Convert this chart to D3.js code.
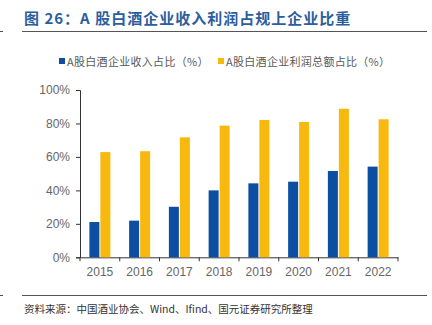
<!DOCTYPE html>
<html><head><meta charset="utf-8">
<script src="https://cdn.jsdelivr.net/npm/d3@7"></script>
<style>body{margin:0;background:#fff}svg{display:block}</style>
</head><body>
<script>
const categories = ["2015","2016","2017","2018","2019","2020","2021","2022"];
const revenueShare = [21.1, 21.9, 30.2, 40.0, 44.2, 45.2, 51.6, 54.2];
const profitShare = [62.9, 63.4, 71.7, 78.7, 82.1, 80.9, 88.8, 82.5];
const seriesNames = ["A股白酒企业收入占比（%）", "A股白酒企业利润总额占比（%）"];
const yTicks = [0, 20, 40, 60, 80, 100];
const title = "图 26：A 股白酒企业收入利润占规上企业比重";
const source = "资料来源：中国酒业协会、Wind、Ifind、国元证券研究所整理";

const W = 432, H = 325;
const colors = ["#0B4EA2", "#F8B90F"];
const font = "'Noto Sans CJK SC', 'Liberation Sans', sans-serif";
const svg = d3.select("body").append("svg").attr("width", W).attr("height", H);

svg.append("text").attr("x", 24).attr("y", 24).text(title)
  .attr("font-family", font).attr("font-size", 15).attr("font-weight", "bold").attr("fill", "#2C5E9E")
  .attr("letter-spacing", 1);
svg.append("line").attr("x1", 22).attr("x2", 427).attr("y1", 31.5).attr("y2", 31.5).attr("stroke", "#555").attr("stroke-width", 1);
svg.append("line").attr("x1", 0).attr("x2", 3).attr("y1", 31.5).attr("y2", 31.5).attr("stroke", "#555").attr("stroke-width", 1);

const x = d3.scaleBand().domain(categories).range([80, 398]);
const y = d3.scaleLinear().domain([0, 100]).range([257.3, 90]);
const barW = 10;

const yAxis = d3.axisLeft(y).tickValues(yTicks).tickFormat(d => d + "%").tickSize(4).tickPadding(6);
const gy = svg.append("g").attr("transform", "translate(80,0)").call(yAxis);
gy.selectAll("text").attr("font-family", "'Liberation Sans', Arial, sans-serif").attr("font-size", 12).attr("fill", "#666");
gy.selectAll("line,path").attr("stroke", "#333");

const xAxis = d3.axisBottom(x).tickSize(0).tickPadding(10);
const gx = svg.append("g").attr("transform", "translate(0,257.3)").call(xAxis);
gx.selectAll("text").attr("font-family", "'Liberation Sans', Arial, sans-serif").attr("font-size", 12).attr("fill", "#666");
gx.select("path").attr("stroke", "#333");
const bounds = categories.map(c => x(c)).concat([x(categories[categories.length-1]) + x.bandwidth()]);
gx.selectAll("line.bt").data(bounds).enter().append("line").attr("class","bt")
  .attr("x1", d => d).attr("x2", d => d).attr("y1", 0).attr("y2", 4).attr("stroke", "#333");

const series = [revenueShare, profitShare];
series.forEach((vals, si) => {
  svg.append("g").selectAll("rect").data(vals).enter().append("rect")
    .attr("x", (d, i) => x(categories[i]) + x.bandwidth()/2 - barW - 0.5 + si*(barW + 1))
    .attr("y", d => y(d)).attr("width", barW).attr("height", d => y(0) - y(d))
    .attr("fill", colors[si]);
});

const leg = [{x: 59, tx: 67}, {x: 218, tx: 226}];
seriesNames.forEach((n, i) => {
  svg.append("rect").attr("x", leg[i].x).attr("y", 58).attr("width", 6).attr("height", 6).attr("fill", colors[i]);
  svg.append("text").attr("x", leg[i].tx).attr("y", 65.5).text(n)
    .attr("font-family", font).attr("font-size", 11).attr("fill", "#595959").attr("letter-spacing", 0.3);
});

svg.append("line").attr("x1", 22).attr("x2", 427).attr("y1", 295.5).attr("y2", 295.5).attr("stroke", "#555").attr("stroke-width", 1);
svg.append("line").attr("x1", 0).attr("x2", 3).attr("y1", 295.5).attr("y2", 295.5).attr("stroke", "#555").attr("stroke-width", 1);
svg.append("text").attr("x", 24).attr("y", 313).text(source)
  .attr("font-family", font).attr("font-size", 10.5).attr("fill", "#333");
</script>
</body></html>
